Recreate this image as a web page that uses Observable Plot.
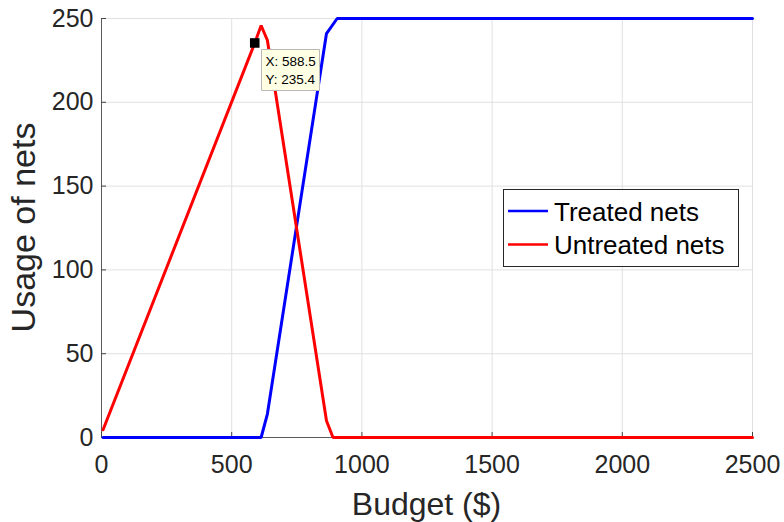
<!DOCTYPE html>
<html><head><meta charset="utf-8">
<script src="https://cdn.jsdelivr.net/npm/d3@7"></script>
<script src="https://cdn.jsdelivr.net/npm/@observablehq/plot@0.6"></script>
<style>
body{margin:0;background:#fff}
#chart{position:relative;width:784px;height:522px}
</style>
</head><body><div id="chart"></div>
<script>
// Data
const budgetTreated   = [6, 613, 637, 864, 905, 2500];
const usageTreated    = [0, 0, 14, 241, 250, 250];
const budgetUntreated = [6, 588.5, 613, 637, 864, 889, 2500];
const usageUntreated  = [4.6, 235.4, 245.8, 237, 10, 0, 0];
const xTicks = [0, 500, 1000, 1500, 2000, 2500];
const yTicks = [0, 50, 100, 150, 200, 250];
const seriesNames = ["Treated nets", "Untreated nets"];
const seriesColors = ["#0000ff", "#ff0000"];
const tipX = 588.5, tipY = 235.4;
const xLabel = "Budget ($)";
const yLabel = "Usage of nets";

const font = "'Liberation Sans', Arial, Helvetica, sans-serif";
const treated = budgetTreated.map((b, i) => ({x: b, y: usageTreated[i]}));
const untreated = budgetUntreated.map((b, i) => ({x: b, y: usageUntreated[i]}));
const tipData = [{x: tipX, y: tipY}];

const W = 784, H = 522, mL = 101, mR = 32, mT = 18, mB = 85;

const chart = Plot.plot({
  width: W, height: H,
  marginLeft: mL, marginRight: mR, marginTop: mT, marginBottom: mB,
  style: {fontFamily: font, background: "#fff", overflow: "visible"},
  x: {domain: [0, 2500]},
  y: {domain: [0, 250]},
  marks: [
    Plot.gridX(xTicks, {stroke: "#e0e0e0", strokeOpacity: 1}),
    Plot.gridY(yTicks, {stroke: "#e0e0e0", strokeOpacity: 1}),
    Plot.ruleY([0], {stroke: "#5a5a5a"}),
    Plot.ruleX([0], {stroke: "#5a5a5a"}),
    Plot.axisX(xTicks, {tickSize: 5, dy: -5, tickFormat: () => "", stroke: "#444", label: null}),
    Plot.axisY(yTicks, {tickSize: 5, dx: 5, tickFormat: () => "", stroke: "#444", label: null}),
    Plot.axisX(xTicks, {tickSize: 0, tickPadding: 18, fontSize: 25, fill: "#262626", label: null, tickFormat: d => String(d)}),
    Plot.axisY(yTicks, {tickSize: 0, tickPadding: 8, fontSize: 25, fill: "#262626", label: null, tickFormat: d => String(d)}),
    Plot.line(treated, {x: "x", y: "y", stroke: seriesColors[0], strokeWidth: 3, strokeLinejoin: "miter"}),
    Plot.line(untreated, {x: "x", y: "y", stroke: seriesColors[1], strokeWidth: 3, strokeLinejoin: "miter"}),
    Plot.dot(tipData, {x: "x", y: "y", symbol: "square", r: 5.4, fill: "#000", stroke: "none"}),
    Plot.tip(tipData, {
      x: "x", y: "y",
      title: d => `X: ${d.x}\nY: ${d.y}`,
      anchor: "top-left", pointerSize: 0, dx: 7, dy: 7,
      fill: "#ffffe4", stroke: "#b8b8b8", pathFilter: "none",
      textPadding: 4, lineHeight: 1.35, fontSize: 13.5, fontFamily: font
    })
  ]
});

document.getElementById("chart").appendChild(chart);
const svg = d3.select(chart);
// drop the empty tick-only labels
svg.selectAll("text").filter(function() { return this.textContent === ""; }).remove();

// Axis labels
svg.append("text")
  .attr("x", (mL + W - mR) / 2).attr("y", 515)
  .attr("text-anchor", "middle")
  .attr("font-size", 32).attr("font-family", font).attr("fill", "#262626")
  .text(xLabel);
svg.append("text")
  .attr("transform", `translate(35,${(mT + H - mB) / 2}) rotate(-90)`)
  .attr("text-anchor", "middle")
  .attr("font-size", 34).attr("font-family", font).attr("fill", "#262626")
  .text(yLabel);

// Legend box
const lg = svg.append("g").attr("transform", "translate(503,189)");
lg.append("rect").attr("x", 0.5).attr("y", 0.5).attr("width", 235).attr("height", 77)
  .attr("fill", "#fff").attr("stroke", "#262626").attr("stroke-width", 1);
seriesNames.forEach((name, i) => {
  const cy = 22 + i * 33.5;
  lg.append("line").attr("x1", 5).attr("x2", 45).attr("y1", cy).attr("y2", cy)
    .attr("stroke", seriesColors[i]).attr("stroke-width", 2.5);
  lg.append("text").attr("x", 51).attr("y", cy + 9.5)
    .attr("text-anchor", "start")
    .attr("font-size", 26).attr("font-family", font).attr("fill", "#000")
    .text(name);
});
</script>
</body></html>
